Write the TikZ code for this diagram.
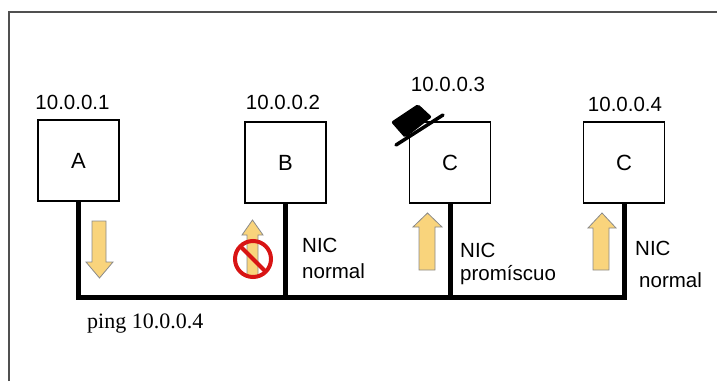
\documentclass[tikz,border=0pt]{standalone}
\usepackage{fontspec}
\setmainfont{Liberation Sans}
\newfontfamily\seriffont{Liberation Serif}
\definecolor{arrowfill}{HTML}{F9D47C}
\definecolor{arrowline}{HTML}{8A8A8A}
\definecolor{stopred}{HTML}{D81414}
\definecolor{framegray}{HTML}{505050}
\begin{document}
\begin{tikzpicture}[x=1pt,y=-1pt,
  host/.style={draw=black,line width=1.4pt,minimum width=81pt,minimum height=81pt,inner sep=0pt,font=\fontsize{22}{26}\selectfont},
  addr/.style={anchor=base,font=\fontsize{20.5}{24}\selectfont,inner sep=0pt},
  nic/.style={anchor=base west,font=\fontsize{20.5}{24}\selectfont,inner sep=0pt},
  bus/.style={line width=5pt,black},
  fatarrow/.style={fill=arrowfill,draw=arrowline,line width=0.8pt,line join=miter},
  stopsign/.style={draw=stopred,line width=4pt}
]
\useasboundingbox (0,0) rectangle (717,381);
% frame
\draw[framegray,line width=2pt] (8.5,381) -- (8.5,12) -- (717,12);
% hosts
\node[host] (A)  at (78.5,160.5) {A};
\node[host] (B)  at (285.5,162.5) {B};
\node[host] (C1) at (450,162.5) {C};
\node[host] (C2) at (624,162.5) {C};
% addresses
\node[addr] (lA)  at (72.5,109) {10.0.0.1};
\node[addr] (lB)  at (283,109) {10.0.0.2};
\node[addr] (lC1) at (448,91) {10.0.0.3};
\node[addr] (lC2) at (625,111) {10.0.0.4};
% bus
\coordinate (busy) at (0,297);
\draw[bus] (A.south) -- (A.south |- busy) -- (C2.south |- busy) -- (C2.south);
\draw[bus] (B.south) -- (B.south |- busy);
\draw[bus] (C1.south) -- (C1.south |- busy);
% NIC labels
\node[nic] (nB1)  at (302,252) {NIC};
\node[nic] (nB2)  at (302,278) {normal};
\node[nic] (nC11) at (460,257) {NIC};
\node[nic] (nC12) at (460,280) {promíscuo};
\node[nic] (nC21) at (635,255) {NIC};
\node[nic] (nC22) at (639,287) {normal};
\node[anchor=base west,inner sep=0pt,font=\seriffont\fontsize{22}{26}\selectfont] (ping) at (87,328) {ping 10.0.0.4};
% arrows
\draw[fatarrow] (92,221) -- (106,221) -- (106,262) -- (113,262) -- (99.5,278) -- (86,262) -- (92,262) -- cycle;
\draw[fatarrow] (419,270) -- (435,270) -- (435,227) -- (442,227) -- (427.5,213) -- (413,227) -- (419,227) -- cycle;
\draw[fatarrow] (593,270) -- (609,270) -- (609,228) -- (616,228) -- (602,213) -- (588,228) -- (593,228) -- cycle;
\draw[fatarrow] (247,276) -- (258,276) -- (258,235) -- (263,235) -- (252.5,220) -- (242,235) -- (247,235) -- cycle;
% prohibition sign
\draw[stopsign] (253,259) circle[radius=18];
\draw[stopsign] (240.3,246.3) -- (265.7,271.7);
% hat
\fill[black,rounded corners=2pt] (391,122) -- (418,104) -- (432,117) -- (405,138) -- cycle;
\draw[black,line width=3.5pt,line cap=round] (396,145) -- (443,115);
\end{tikzpicture}
\end{document}
